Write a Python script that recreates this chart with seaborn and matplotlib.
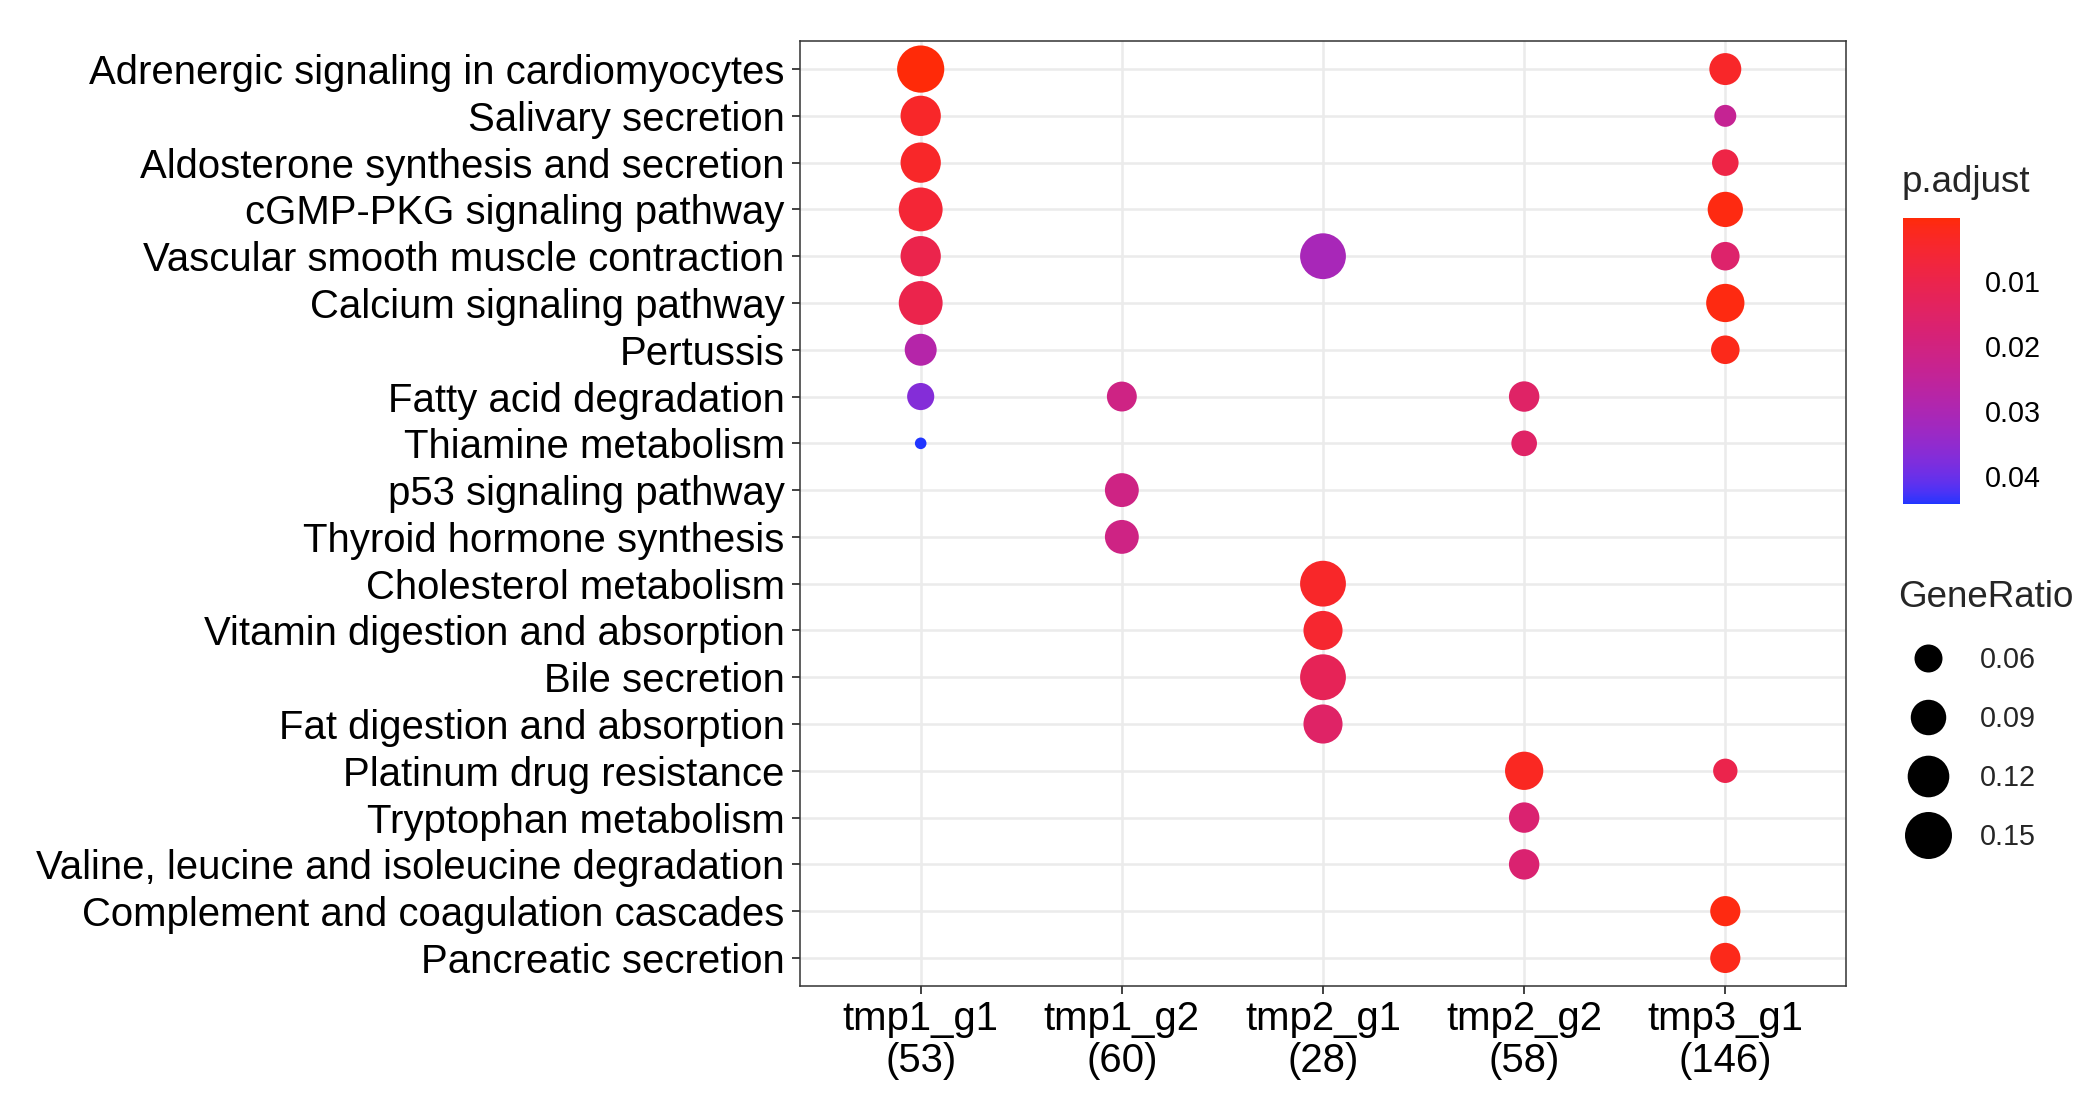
import numpy as np
import pandas as pd
import matplotlib
matplotlib.use("Agg")
import matplotlib.pyplot as plt
import seaborn as sns
from matplotlib.colors import ListedColormap, Normalize
from matplotlib.cm import ScalarMappable
from matplotlib.lines import Line2D

# ----------------------------
# Data
# ----------------------------
pathways = [
    "Adrenergic signaling in cardiomyocytes",
    "Salivary secretion",
    "Aldosterone synthesis and secretion",
    "cGMP-PKG signaling pathway",
    "Vascular smooth muscle contraction",
    "Calcium signaling pathway",
    "Pertussis",
    "Fatty acid degradation",
    "Thiamine metabolism",
    "p53 signaling pathway",
    "Thyroid hormone synthesis",
    "Cholesterol metabolism",
    "Vitamin digestion and absorption",
    "Bile secretion",
    "Fat digestion and absorption",
    "Platinum drug resistance",
    "Tryptophan metabolism",
    "Valine, leucine and isoleucine degradation",
    "Complement and coagulation cascades",
    "Pancreatic secretion",
]
clusters = ["tmp1_g1", "tmp1_g2", "tmp2_g1", "tmp2_g2", "tmp3_g1"]
cluster_sizes = [53, 60, 28, 58, 146]

point_cluster = (["tmp1_g1"] * 9 + ["tmp1_g2"] * 3 + ["tmp2_g1"] * 5
                 + ["tmp2_g2"] * 5 + ["tmp3_g1"] * 10)
point_pathway = [
    # tmp1_g1
    "Adrenergic signaling in cardiomyocytes", "Salivary secretion",
    "Aldosterone synthesis and secretion", "cGMP-PKG signaling pathway",
    "Vascular smooth muscle contraction", "Calcium signaling pathway",
    "Pertussis", "Fatty acid degradation", "Thiamine metabolism",
    # tmp1_g2
    "Fatty acid degradation", "p53 signaling pathway", "Thyroid hormone synthesis",
    # tmp2_g1
    "Vascular smooth muscle contraction", "Cholesterol metabolism",
    "Vitamin digestion and absorption", "Bile secretion", "Fat digestion and absorption",
    # tmp2_g2
    "Fatty acid degradation", "Thiamine metabolism", "Platinum drug resistance",
    "Tryptophan metabolism", "Valine, leucine and isoleucine degradation",
    # tmp3_g1
    "Adrenergic signaling in cardiomyocytes", "Salivary secretion",
    "Aldosterone synthesis and secretion", "cGMP-PKG signaling pathway",
    "Vascular smooth muscle contraction", "Calcium signaling pathway",
    "Pertussis", "Platinum drug resistance",
    "Complement and coagulation cascades", "Pancreatic secretion",
]
gene_ratio = [
    0.151, 0.113, 0.113, 0.132, 0.113, 0.132, 0.075, 0.057, 0.019,
    0.067, 0.083, 0.083,
    0.143, 0.143, 0.107, 0.143, 0.107,
    0.069, 0.052, 0.103, 0.069, 0.069,
    0.075, 0.041, 0.055, 0.089, 0.062, 0.103, 0.062, 0.048, 0.068, 0.068,
]
p_adjust = [
    0.0003, 0.004, 0.004, 0.006, 0.010, 0.010, 0.028, 0.037, 0.0443,
    0.021, 0.021, 0.021,
    0.031, 0.004, 0.005, 0.012, 0.015,
    0.015, 0.015, 0.003, 0.017, 0.017,
    0.004, 0.024, 0.009, 0.001, 0.016, 0.001, 0.002, 0.010, 0.001, 0.002,
]
legend_ratios = [0.06, 0.09, 0.12, 0.15]
cbar_ticks = [0.01, 0.02, 0.03, 0.04]

df = pd.DataFrame({
    "Cluster": pd.Categorical(point_cluster, categories=clusters),
    "Description": pd.Categorical(point_pathway, categories=pathways),
    "GeneRatio": gene_ratio,
    "p.adjust": p_adjust,
})

# ----------------------------
# Colour scale: red -> blue interpolated in Lab (like ggplot)
# ----------------------------
M = np.array([[0.4124, 0.3576, 0.1805],
              [0.2126, 0.7152, 0.0722],
              [0.0193, 0.1192, 0.9505]])
WHITE = np.array([0.95047, 1.0, 1.08883])


def to_lab(hex_color):
    c = np.array(matplotlib.colors.to_rgb(hex_color))
    c = np.where(c > 0.04045, ((c + 0.055) / 1.055) ** 2.4, c / 12.92)
    xyz = M @ c / WHITE
    f = np.where(xyz > 0.008856, np.cbrt(xyz), 7.787 * xyz + 16 / 116)
    return np.array([116 * f[1] - 16, 500 * (f[0] - f[1]), 200 * (f[1] - f[2])])


def from_lab(lab):
    fy = (lab[0] + 16) / 116
    f = np.array([fy + lab[1] / 500, fy, fy - lab[2] / 200])
    xyz = np.where(f ** 3 > 0.008856, f ** 3, (f - 16 / 116) / 7.787) * WHITE
    c = np.clip(np.linalg.inv(M) @ xyz, 0, None)
    c = np.where(c > 0.0031308, 1.055 * c ** (1 / 2.4) - 0.055, 12.92 * c)
    return np.clip(c, 0, 1)


lab_lo, lab_hi = to_lab("#FF2A08"), to_lab("#2035FF")
cmap = ListedColormap([from_lab(lab_lo + t * (lab_hi - lab_lo))
                       for t in np.linspace(0, 1, 256)])
p_norm = (min(p_adjust), max(p_adjust))

# size: area linear in GeneRatio
size_norm = (0.015, 0.16)
sizes = (37, 1227)


def ratio_to_area(r):
    return sizes[0] + (r - size_norm[0]) / (size_norm[1] - size_norm[0]) * (sizes[1] - sizes[0])


# ----------------------------
# Plot
# ----------------------------
sns.set_style("white")
plt.rcParams["font.family"] = ["Liberation Sans", "DejaVu Sans"]

fig = plt.figure(figsize=(20.9, 11), dpi=100)
ax = fig.add_axes([800 / 2090, 1 - 986 / 1100, 1046 / 2090, 945 / 1100])
ax.set_axisbelow(True)

sns.scatterplot(data=df, x="Cluster", y="Description",
                hue="p.adjust", palette=cmap, hue_norm=p_norm,
                size="GeneRatio", sizes=sizes, size_norm=size_norm,
                linewidth=0, legend=False, ax=ax, zorder=3)

ax.set_xlim(-0.6, len(clusters) - 0.4)
ax.set_ylim(len(pathways) - 0.4, -0.6)
ax.set_xticks(range(len(clusters)))
ax.set_xticklabels([f"{c}\n({n})" for c, n in zip(clusters, cluster_sizes)],
                   linespacing=1.15)
ax.set_yticks(range(len(pathways)))
ax.set_yticklabels(pathways)
ax.set_xlabel("")
ax.set_ylabel("")

ax.grid(True, color="#EBEBEB", linewidth=1.8)
for s in ax.spines.values():
    s.set_color("#333333")
    s.set_linewidth(1.1)
ax.tick_params(axis="both", length=6, width=1.3, color="#333333",
               labelsize=28.9, labelcolor="black", pad=4,
               bottom=True, left=True)
ax.tick_params(axis="y", pad=5)

# colour bar
fig.text(1902 / 2090, 1 - 183 / 1100, "p.adjust", fontsize=26.5, va="center", ha="left")
cax = fig.add_axes([1903 / 2090, 1 - 504 / 1100, 57 / 2090, 286 / 1100])
sm = ScalarMappable(norm=Normalize(*p_norm), cmap=cmap)
cbar = fig.colorbar(sm, cax=cax)
cbar.outline.set_visible(False)
cbar.set_ticks(cbar_ticks)
cbar.set_ticklabels([f"{t:.2f}" for t in cbar_ticks])
cax.invert_yaxis()
cax.tick_params(axis="y", direction="in", length=8, width=1.2, colors="white",
                labelcolor="black", labelsize=20.7, pad=18,
                left=True, right=True)

# size legend
handles = [Line2D([], [], marker="o", linestyle="", color="black",
                  markersize=np.sqrt(ratio_to_area(r)), markeredgewidth=0)
           for r in legend_ratios]
fig.legend(handles, [f"{r:.2f}" for r in legend_ratios],
           title="GeneRatio", title_fontsize=26.5, fontsize=20.7,
           loc="upper left", bbox_to_anchor=(1898 / 2090, 1 - 580 / 1100),
           frameon=False, alignment="left", borderpad=0, borderaxespad=0,
           labelspacing=1.08, handletextpad=0.75, handlelength=2.1)

fig.savefig("out.png", dpi=100)
